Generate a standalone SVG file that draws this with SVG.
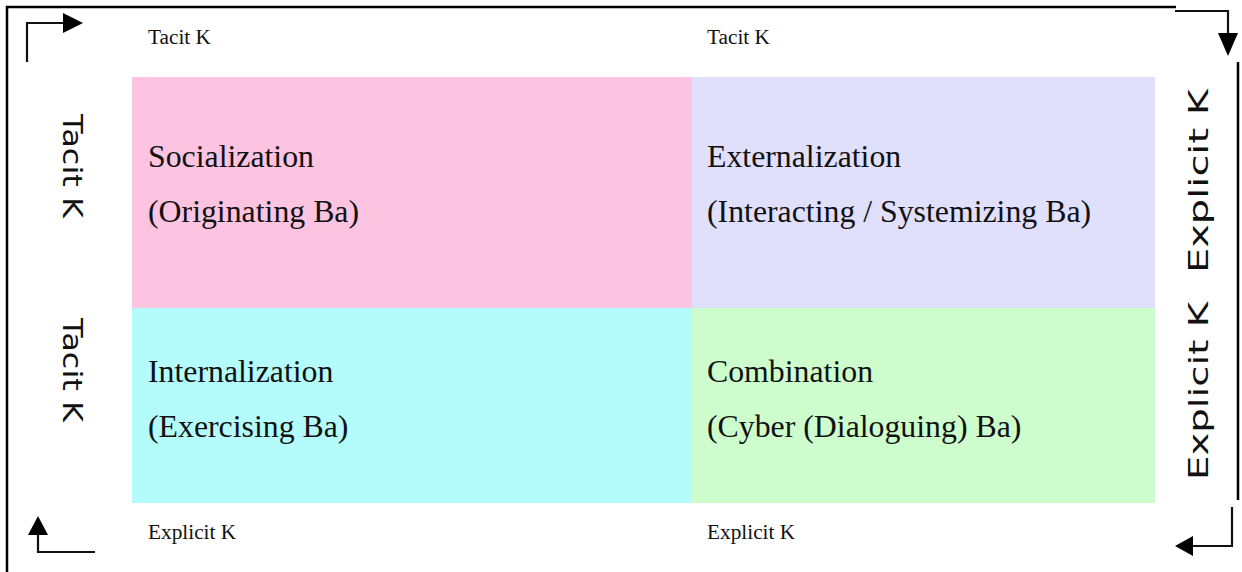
<svg xmlns="http://www.w3.org/2000/svg" width="1242" height="572" viewBox="0 0 1242 572">
<style>
.main{font-family:"Liberation Serif","Times New Roman",serif;font-size:31.8px;fill:#111}
.small{font-family:"Liberation Serif","Times New Roman",serif;font-size:21.3px;fill:#111}
.side{font-family:"DejaVu Sans",Verdana,sans-serif;font-size:26px;fill:#111}
.ln{stroke:#111;stroke-width:2.2;fill:none}
.frame{stroke:#000;stroke-width:2.5;fill:none}
.head{fill:#000}
</style>
<rect width="1242" height="572" fill="#fff"/>
<g id="frame">
<polyline class="frame" points="1176,7 7,7 7,572"/>
<line class="frame" x1="1238" y1="62" x2="1238" y2="500"/>
</g>
<g id="socialization">
<rect x="132" y="77" width="560" height="231" fill="#FCC4E0"/>
<text class="main" x="148" y="167">Socialization</text>
<text class="main" x="148" y="222">(Originating Ba)</text>
</g>
<g id="externalization">
<rect x="692" y="77" width="463" height="231" fill="#E0DFFC"/>
<text class="main" x="707" y="167">Externalization</text>
<text class="main" x="707" y="222">(Interacting / Systemizing Ba)</text>
</g>
<g id="internalization">
<rect x="132" y="308" width="560" height="195" fill="#B4FCFC"/>
<text class="main" x="148" y="382">Internalization</text>
<text class="main" x="148" y="437">(Exercising Ba)</text>
</g>
<g id="combination">
<rect x="692" y="308" width="463" height="195" fill="#CDFDCC"/>
<text class="main" x="707" y="382">Combination</text>
<text class="main" x="707" y="437">(Cyber (Dialoguing) Ba)</text>
</g>
<g id="top-labels">
<text class="small" x="148" y="44">Tacit K</text>
<text class="small" x="707" y="44">Tacit K</text>
</g>
<g id="bottom-labels">
<text class="small" x="148" y="539">Explicit K</text>
<text class="small" x="707" y="539">Explicit K</text>
</g>
<g id="left-labels">
<text class="side" transform="translate(63,114) rotate(90)" textLength="104" lengthAdjust="spacingAndGlyphs">Tacit K</text>
<text class="side" transform="translate(63,318) rotate(90)" textLength="104" lengthAdjust="spacingAndGlyphs">Tacit K</text>
</g>
<g id="right-labels">
<text class="side" transform="translate(1208,273) rotate(-90)" textLength="184" lengthAdjust="spacingAndGlyphs">Explicit K</text>
<text class="side" transform="translate(1208,480) rotate(-90)" textLength="178" lengthAdjust="spacingAndGlyphs">Explicit K</text>
</g>
<g id="connectors">
<polyline class="ln" points="27,62 27,23 65,23"/>
<polygon class="head" points="63,13 83,23 63,33"/>
<polyline class="ln" points="1175,11 1228,11 1228,34"/>
<polygon class="head" points="1218,33 1238,33 1228,56"/>
<polyline class="ln" points="95,552 38,552 38,533"/>
<polygon class="head" points="28,535 48,535 38,516"/>
<polyline class="ln" points="1232,507 1232,546 1191,546"/>
<polygon class="head" points="1193,536 1193,556 1175,546"/>
</g>
</svg>
